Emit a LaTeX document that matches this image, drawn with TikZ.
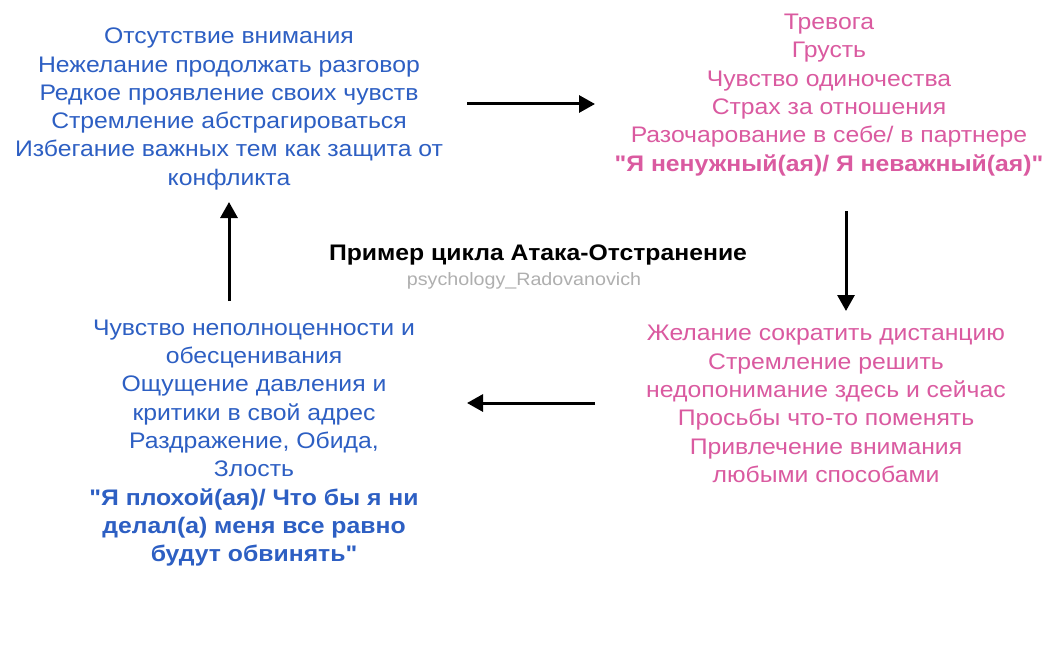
\documentclass[tikz,border=0pt]{standalone}
\usepackage{fontspec}
\setmainfont{Liberation Sans}[FakeStretch=1.1, Ligatures=TeXOff]
\usetikzlibrary{arrows.meta}
\definecolor{tblue}{RGB}{45,95,195}
\definecolor{tpink}{RGB}{218,90,160}
\definecolor{tgray}{RGB}{175,175,175}
\tikzset{
  txt/.style={align=center, inner sep=0pt, font=\fontsize{22.5}{28.3}\selectfont},
  bluetxt/.style={txt, text=tblue},
  pinktxt/.style={txt, text=tpink},
  arr/.style={line width=3pt, -{Triangle[length=16pt,width=17pt]}}
}
\begin{document}
\begin{tikzpicture}[x=1pt,y=-1pt]
\useasboundingbox[fill=white] (0,0) rectangle (1050,658);
\node[bluetxt] (tl) at (229,109) {Отсутствие внимания\\Нежелание продолжать разговор\\Редкое проявление своих чувств\\Стремление абстрагироваться\\Избегание важных тем как защита от\\конфликта};
\node[pinktxt] (tr) at (829,95) {Тревога\\Грусть\\Чувство одиночества\\Страх за отношения\\Разочарование в себе/ в партнере\\\textbf{"Я ненужный(ая)/ Я неважный(ая)"}};
\node[txt, font=\bfseries\fontsize{22.5}{24}\selectfont] (title) at (538,255) {Пример цикла Атака-Отстранение};
\node[txt, text=tgray, font=\fontsize{17.9}{20}\selectfont] (wm) at (524,281) {psychology\_Radovanovich};
\node[bluetxt] (bl) at (254,443) {Чувство неполноценности и\\обесценивания\\Ощущение давления и\\критики в свой адрес\\Раздражение, Обида,\\Злость\\\textbf{"Я плохой(ая)/ Что бы я ни}\\\textbf{делал(а) меня все равно}\\\textbf{будут обвинять"}};
\node[pinktxt] (br) at (826,404) {Желание сократить дистанцию\\Стремление решить\\недопонимание здесь и сейчас\\Просьбы что-то поменять\\Привлечение внимания\\любыми способами};
\coordinate (a1s) at (467,104); \coordinate (a1e) at (595,104);
\coordinate (a2s) at (846,211); \coordinate (a2e) at (846,311);
\coordinate (a3s) at (595,403); \coordinate (a3e) at (467,403);
\coordinate (a4s) at (229,301); \coordinate (a4e) at (229,202);
\draw[arr] (a1s) -- (a1e);
\draw[arr] (a2s) -- (a2e);
\draw[arr] (a3s) -- (a3e);
\draw[arr] (a4s) -- (a4e);
\end{tikzpicture}
\end{document}
